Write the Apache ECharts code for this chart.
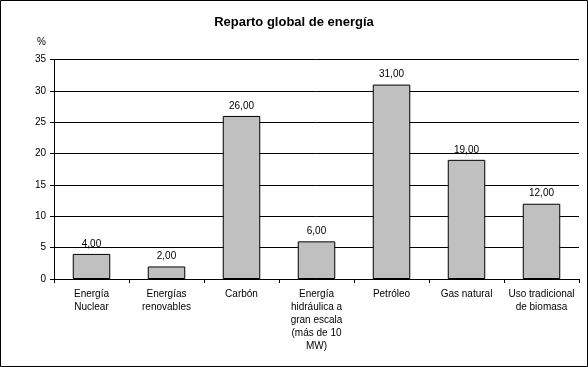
<!DOCTYPE html>
<html>
<head>
<meta charset="utf-8">
<script src="https://cdn.jsdelivr.net/npm/echarts@6/dist/echarts.min.js"></script>
<style>
html,body{margin:0;padding:0;background:#fff;}
#chart{width:588px;height:367px;}
</style>
</head>
<body>
<div id="chart"></div>
<script>
var titleText = 'Reparto global de energía';
var unitLabel = '%';
var categories = [
  'Energía\nNuclear',
  'Energías\nrenovables',
  'Carbón',
  'Energía\nhidráulica a\ngran escala\n(más de 10\nMW)',
  'Petróleo',
  'Gas natural',
  'Uso tradicional\nde biomasa'
];
var values = [4, 2, 26, 6, 31, 19, 12];
var yTicks = [0, 5, 10, 15, 20, 25, 30, 35];

var chart = echarts.init(document.getElementById('chart'), null, {renderer: 'canvas'});
var font = 'Arial, "Liberation Sans", sans-serif';
chart.setOption({
  backgroundColor: '#ffffff',
  animation: false,
  title: {
    text: titleText,
    left: 'center',
    top: 11,
    textStyle: {fontFamily: font, fontSize: 13, fontWeight: 'bold', color: '#000'}
  },
  graphic: [
    {type: 'rect', shape: {x: 0.5, y: 0.5, width: 587, height: 366}, style: {fill: 'none', stroke: '#000', lineWidth: 1}, z: 100},
    {type: 'text', left: 37, top: 37, style: {text: unitLabel, font: '10px ' + font, fill: '#000'}}
  ],
  grid: {left: 54, right: 9, top: 59.5, bottom: 88, containLabel: false},
  xAxis: {
    type: 'category',
    data: categories,
    axisLine: {lineStyle: {color: '#000', width: 1}},
    axisTick: {show: true, length: 4, lineStyle: {color: '#000'}},
    axisLabel: {interval: 0, fontFamily: font, fontSize: 10, color: '#000', lineHeight: 13, margin: 9}
  },
  yAxis: {
    type: 'value',
    min: yTicks[0],
    max: yTicks[yTicks.length - 1],
    interval: 5,
    axisLine: {show: true, lineStyle: {color: '#000', width: 1}},
    axisTick: {show: true, length: 4, lineStyle: {color: '#000'}},
    axisLabel: {fontFamily: font, fontSize: 10, color: '#000', margin: 8},
    splitLine: {show: true, lineStyle: {color: '#000', width: 1}}
  },
  series: [{
    type: 'bar',
    data: values,
    barWidth: '50%',
    itemStyle: {color: '#C0C0C0', borderColor: '#000', borderWidth: 1},
    label: {
      show: true,
      position: 'top',
      distance: 5,
      fontFamily: font,
      fontSize: 10,
      color: '#000',
      formatter: function (p) { return p.value.toFixed(2).replace('.', ','); }
    }
  }]
});
</script>
</body>
</html>
